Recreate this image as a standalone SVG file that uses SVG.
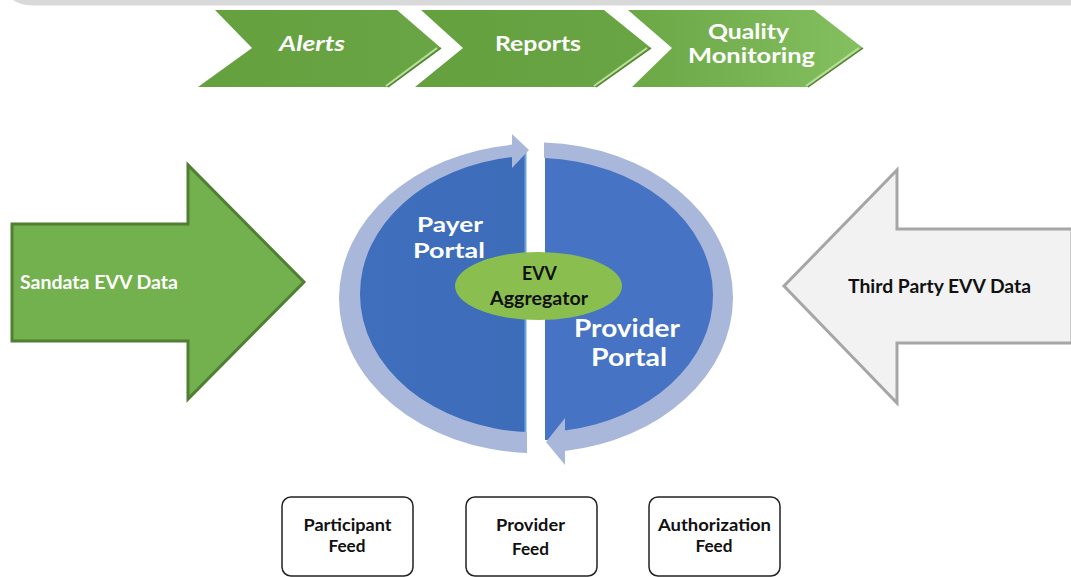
<svg xmlns="http://www.w3.org/2000/svg" width="1071" height="577" viewBox="0 0 1071 577">
<style>
text{font-family:Lato,"Open Sans","Liberation Sans",sans-serif;font-weight:700;text-anchor:middle}
.w{fill:#fff}.k{fill:#111}
.hi{fill:none;stroke:#b9e09a;stroke-width:2}
.lo{fill:none;stroke:#4f7f30;stroke-width:1.500}
.box{fill:#fff;stroke:#222;stroke-width:1.500}
</style>
<defs>
<linearGradient id="g1" x1="0" x2="1"><stop offset="0" stop-color="#65a03f"/><stop offset="1" stop-color="#6aa545"/></linearGradient>
<linearGradient id="g3" x1="0" x2="1"><stop offset="0" stop-color="#6ca746"/><stop offset="1" stop-color="#84bf60"/></linearGradient>
<linearGradient id="b1" x1="0" x2="1"><stop offset="0" stop-color="#3f6fbd"/><stop offset="1" stop-color="#3d6cb9"/></linearGradient>
</defs>
<path d="M13 0H1071V5.500H32Q20 5 13 0Z" fill="#d9d9d9"/>
<g id="chevron-alerts">
<polygon points="215,10 397,10 441,48 388,87 198,87 252,48" fill="url(#g1)"/>
<polyline class="lo" points="441,48 388,87"/>
<polyline class="hi" points="437,48 386,86"/>
<text class="w" x="312" y="51" font-size="21" font-style="italic" textLength="66" lengthAdjust="spacingAndGlyphs">Alerts</text>
</g>
<g id="chevron-reports">
<polygon points="421,10 604,10 651,48 596,87 415,87 463,48" fill="url(#g1)"/>
<polyline class="lo" points="651,48 596,87"/>
<polyline class="hi" points="647,48 594,86"/>
<text class="w" x="538" y="51" font-size="21" textLength="86" lengthAdjust="spacingAndGlyphs">Reports</text>
</g>
<g id="chevron-quality">
<polygon points="628,10 814,10 863,48 808,87 632,87 672,48" fill="url(#g3)"/>
<polyline class="lo" points="863,48 808,87"/>
<polyline class="hi" points="859,48 806,86"/>
<text class="w" x="748.500" y="39" font-size="20" textLength="81" lengthAdjust="spacingAndGlyphs">Quality</text>
<text class="w" x="751.500" y="63" font-size="20" textLength="127" lengthAdjust="spacingAndGlyphs">Monitoring</text>
</g>
<g id="arrow-sandata">
<polygon points="12,224 188,224 188,165 304,282 188,399 188,341 12,341" fill="#72b14d" stroke="#4f7f33" stroke-width="3"/>
<text class="w" x="99" y="289" font-size="18" textLength="158" lengthAdjust="spacingAndGlyphs">Sandata EVV Data</text>
</g>
<g id="arrow-third-party">
<polygon points="1072,229 897,229 897,170 784,286 897,403 897,343 1072,343" fill="#f2f2f2" stroke="#a6a6a6" stroke-width="3"/>
<text class="k" x="939.500" y="293" font-size="19" textLength="183" lengthAdjust="spacingAndGlyphs">Third Party EVV Data</text>
</g>
<g id="payer-portal">
<path d="M526 150V436H510C420 430 350 380 350 296C350 215 420 155 510 150Z" fill="url(#b1)"/>
<rect x="524.500" y="150" width="2" height="282" fill="#6fa3e0"/>
</g>
<g id="provider-portal">
<path d="M545 150C650 150 723 215 723 296C723 380 650 440 545 440Z" fill="#4673c4"/>
</g>
<g id="connectors" fill="#a9b8da">
<path d="M513 144.600A197 155 0 0 0 339 298A197 155 0 0 0 527 453V432A176 138 0 0 1 360 294A176 138 0 0 1 513 157Z"/>
<polygon points="512,134 529,150 512,168"/>
<path d="M544 142.500A197 155 0 0 1 733 298A197 155 0 0 1 565 451V430.500A177 137 0 0 0 713 295A177 137 0 0 0 544 158Z"/>
<polygon points="565,418 546,442 565,465"/>
</g>
<g id="evv-aggregator">
<ellipse cx="538.500" cy="286" rx="83.500" ry="34" fill="#8abf50"/>
<text class="k" x="539.500" y="280" font-size="19" textLength="35" lengthAdjust="spacingAndGlyphs">EVV</text>
<text class="k" x="539" y="305" font-size="19" textLength="98" lengthAdjust="spacingAndGlyphs">Aggregator</text>
</g>
<text class="w" x="450" y="232" font-size="21" textLength="66" lengthAdjust="spacingAndGlyphs">Payer</text>
<text class="w" x="449" y="258" font-size="21" textLength="72" lengthAdjust="spacingAndGlyphs">Portal</text>
<text class="w" x="627" y="337" font-size="24" textLength="106" lengthAdjust="spacingAndGlyphs">Provider</text>
<text class="w" x="629" y="366" font-size="24" textLength="76" lengthAdjust="spacingAndGlyphs">Portal</text>
<g id="participant-feed">
<rect class="box" x="282" y="497" width="131" height="79" rx="9"/>
<text class="k" x="347.500" y="531" font-size="17" textLength="88" lengthAdjust="spacingAndGlyphs">Participant</text>
<text class="k" x="347" y="552" font-size="17" textLength="37" lengthAdjust="spacingAndGlyphs">Feed</text>
</g>
<g id="provider-feed">
<rect class="box" x="466" y="497" width="131" height="79" rx="9"/>
<text class="k" x="530.500" y="531" font-size="17" textLength="69" lengthAdjust="spacingAndGlyphs">Provider</text>
<text class="k" x="530.500" y="555" font-size="17" textLength="37" lengthAdjust="spacingAndGlyphs">Feed</text>
</g>
<g id="authorization-feed">
<rect class="box" x="649" y="497" width="131" height="79" rx="9"/>
<text class="k" x="714.500" y="531" font-size="17" textLength="113" lengthAdjust="spacingAndGlyphs">Authorization</text>
<text class="k" x="714" y="552" font-size="17" textLength="37" lengthAdjust="spacingAndGlyphs">Feed</text>
</g>
</svg>
